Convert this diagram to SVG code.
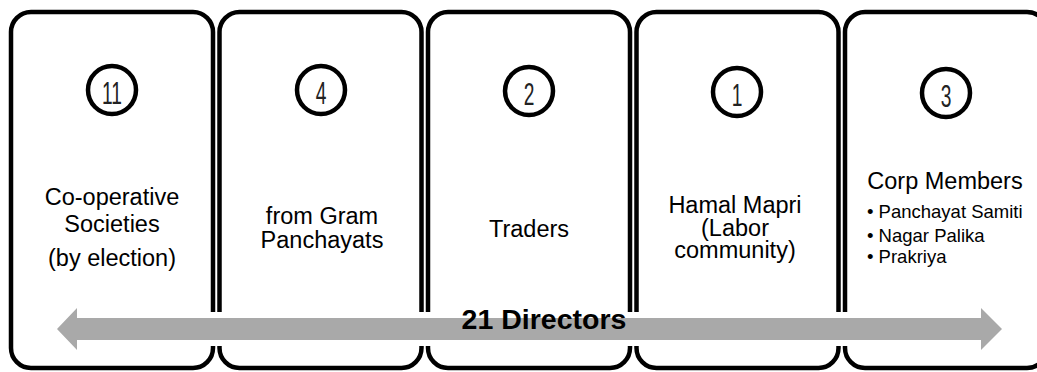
<svg xmlns="http://www.w3.org/2000/svg" width="1037" height="372" viewBox="0 0 1037 372">
<style>
.box{fill:#fff;stroke:#000;stroke-width:4.5}
.ring{fill:#fff;stroke:#000;stroke-width:4.5}
.num{font-family:"Liberation Sans",Arial,sans-serif;font-size:32px;fill:#222;text-anchor:middle}
.lbl{font-family:"Liberation Sans",Arial,sans-serif;font-size:23.5px;fill:#000;text-anchor:middle}
.bul{font-family:"Liberation Sans",Arial,sans-serif;font-size:18.5px;fill:#000}
.big{font-family:"Liberation Sans",Arial,sans-serif;font-size:28.5px;font-weight:bold;fill:#000;text-anchor:middle}
.arr{fill:#a9a9a9;stroke:#fff;stroke-width:12;paint-order:stroke;stroke-linejoin:miter}
</style>
<rect width="1037" height="372" fill="#fff"/>
<g id="node1">
<rect class="box" x="11" y="12" width="202" height="356" rx="20"/>
<circle class="ring" cx="112" cy="90" r="24"/>
<text class="num" transform="translate(112,104) scale(0.6,1)">11</text>
<text class="lbl" x="112" y="205">Co-operative</text>
<text class="lbl" x="112" y="232">Societies</text>
<text class="lbl" x="112" y="266">(by election)</text>
</g>
<g id="node2">
<rect class="box" x="219.5" y="12" width="202" height="356" rx="20"/>
<circle class="ring" cx="321" cy="90" r="24"/>
<text class="num" transform="translate(321,104) scale(0.6,1)">4</text>
<text class="lbl" x="322" y="224">from Gram</text>
<text class="lbl" x="322" y="248">Panchayats</text>
</g>
<g id="node3">
<rect class="box" x="428" y="12" width="202" height="356" rx="20"/>
<circle class="ring" cx="529" cy="91" r="24"/>
<text class="num" transform="translate(529,105) scale(0.6,1)">2</text>
<text class="lbl" x="529" y="237">Traders</text>
</g>
<g id="node4">
<rect class="box" x="636.5" y="12" width="202" height="356" rx="20"/>
<circle class="ring" cx="737" cy="92" r="24"/>
<text class="num" transform="translate(737,106) scale(0.6,1)">1</text>
<text class="lbl" x="735" y="213">Hamal Mapri</text>
<text class="lbl" x="735" y="236">(Labor</text>
<text class="lbl" x="735" y="258">community)</text>
</g>
<g id="node5">
<rect class="box" x="845" y="12" width="202" height="356" rx="20"/>
<circle class="ring" cx="946" cy="93" r="24"/>
<text class="num" transform="translate(946,107) scale(0.6,1)">3</text>
<text class="lbl" x="945" y="189">Corp Members</text>
<text class="bul" x="867" y="218">• Panchayat Samiti</text>
<text class="bul" x="867" y="242">• Nagar Palika</text>
<text class="bul" x="867" y="263">• Prakriya</text>
</g>
<g id="connectors">
<polygon class="arr" points="57,329 77,308 77,318 981,318 981,308 1002,329 981,350 981,340 77,340 77,350"/>
<text class="big" x="544" y="329">21 Directors</text>
</g>
</svg>
